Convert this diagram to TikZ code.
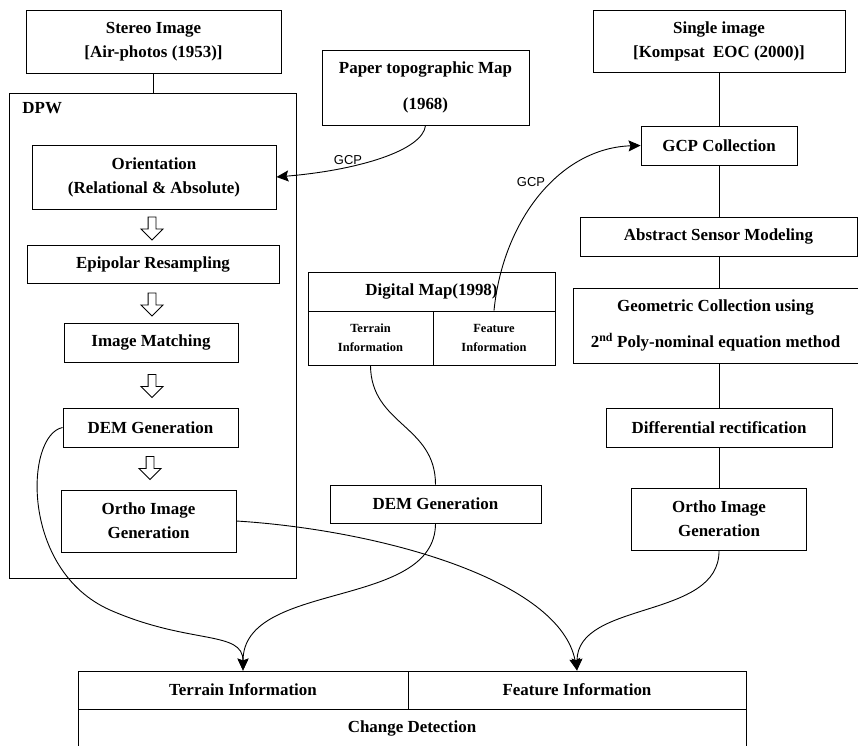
\documentclass[tikz,border=0pt]{standalone}
\usepackage{fontspec}
\setmainfont{Liberation Serif}
\newfontfamily\gcpfont{Liberation Sans}
\usetikzlibrary{arrows.meta,shapes.arrows}

\begin{document}
\begin{tikzpicture}[x=1bp,y=1bp,line width=0.9bp]
\tikzstyle{every node}+=[inner sep=0pt]
\tikzstyle{box}=[draw, align=center, font=\fontsize{17}{24}\selectfont\bfseries]
\tikzstyle{cell}=[draw, align=center, font=\fontsize{12.5}{19}\selectfont\bfseries]
\tikzstyle{hollow}=[draw, single arrow, shape border rotate=270, inner sep=3.5bp, minimum height=23bp, minimum width=21bp, single arrow head extend=7bp]
\tikzstyle{gcp}=[font=\gcpfont\fontsize{13}{15}\selectfont]
\tikzstyle{link}=[-{Stealth[length=12bp,width=11bp,inset=2bp]}]
\useasboundingbox (0,0) rectangle (858,-746);
% left column
\node [box, minimum width=255bp, minimum height=63bp] (stereo) at (153.5,-41.5) {Stereo Image\\{}[Air-photos (1953)]};
\node [box, minimum width=287bp, minimum height=485bp] (dpw) at (152.5,-335.5) {};
\node [font=\fontsize{17}{20}\selectfont\bfseries, anchor=west] (dpwlabel) at (22,-108) {DPW};
\node [box, minimum width=244bp, minimum height=64bp] (orient) at (154,-177) {Orientation\\(Relational \& Absolute)};
\node [hollow] (h1) at (152,-226.5) {};
\node [box, minimum width=252bp, minimum height=38bp] (epi) at (153,-264) {Epipolar Resampling};
\node [hollow] (h2) at (152,-302.5) {};
\node [box, minimum width=174bp, minimum height=39bp] (match) at (151,-342.5) {Image Matching};
\node [hollow] (h3) at (152,-384) {};
\node [box, minimum width=175bp, minimum height=39bp] (demL) at (150.5,-427.5) {DEM Generation};
\node [hollow] (h4) at (150,-466) {};
\node [box, minimum width=175bp, minimum height=62bp] (orthoL) at (148.5,-521) {Ortho Image\\Generation};
% middle column
\node [box, minimum width=207bp, minimum height=75bp] (paper) at (425.5,-87.5) {Paper topographic Map\\[12bp](1968)};
\node [box, minimum width=247bp, minimum height=39bp] (dmap) at (431.5,-291.5) {Digital Map(1998)};
\node [cell, minimum width=125bp, minimum height=54bp] (dmapT) at (370.5,-338) {Terrain\\Information};
\node [cell, minimum width=122bp, minimum height=54bp] (dmapF) at (494,-338) {Feature\\Information};
\node [box, minimum width=211bp, minimum height=38bp] (demM) at (435.5,-504) {DEM Generation};
% right column
\node [box, minimum width=252bp, minimum height=62bp] (single) at (719,-41) {Single image\\{}[Kompsat~ EOC (2000)]};
\node [box, minimum width=156bp, minimum height=39bp] (gcpc) at (719,-145.5) {GCP Collection};
\node [box, minimum width=277bp, minimum height=39bp] (abstract) at (718.5,-236.5) {Abstract Sensor Modeling};
\node [box, minimum width=285bp, minimum height=75bp] (geom) at (715.5,-325.5) {Geometric Collection using\\[12bp]2\textsuperscript{nd} Poly-nominal equation method};
\node [box, minimum width=226bp, minimum height=39bp] (diff) at (719,-427.5) {Differential rectification};
\node [box, minimum width=175bp, minimum height=62bp] (orthoR) at (719,-519) {Ortho Image\\Generation};
% result table
\node [box, minimum width=330bp, minimum height=38bp] (terrainB) at (243,-690) {Terrain Information};
\node [box, minimum width=338bp, minimum height=38bp] (featureB) at (577,-690) {Feature Information};
\node [box, minimum width=668bp, minimum height=39bp] (change) at (412,-728.5) {Change Detection};
% plain links
\draw (stereo.south) -- (stereo.south |- dpw.north);
\draw (single.south) -- (gcpc.north);
\draw (gcpc.south) -- (gcpc.south |- abstract.north);
\draw (gcpc.south |- abstract.south) -- (gcpc.south |- geom.north);
\draw (diff.north |- geom.south) -- (diff.north);
\draw (diff.south) -- (orthoR.north);
% curved links
\draw [link] (paper.south) .. controls (423,-150) and (360,-170) .. (orient.east);
\node [gcp] (gcpA) at (348,-160) {GCP};
\draw [link] (dmapF.north) .. controls (503,-220) and (560,-148) .. (gcpc.west);
\node [gcp] (gcpB) at (531,-182) {GCP};
\draw (dmapT.south) .. controls (371,-425) and (435.5,-425) .. (demM.north);
\draw [link] (demM.south) .. controls (435.5,-610) and (243,-580) .. (terrainB.north);
\coordinate (sweep) at (110,-610);
\draw [link] (demL.west) .. controls (25,-435) and (20,-570) .. (sweep) .. controls (190,-645) and (243,-630) .. (terrainB.north);
\draw [link] (orthoL.east) .. controls (380,-530) and (560,-580) .. (featureB.north);
\draw [link] (orthoR.south) .. controls (720,-620) and (577,-600) .. (featureB.north);
\end{tikzpicture}
\end{document}
